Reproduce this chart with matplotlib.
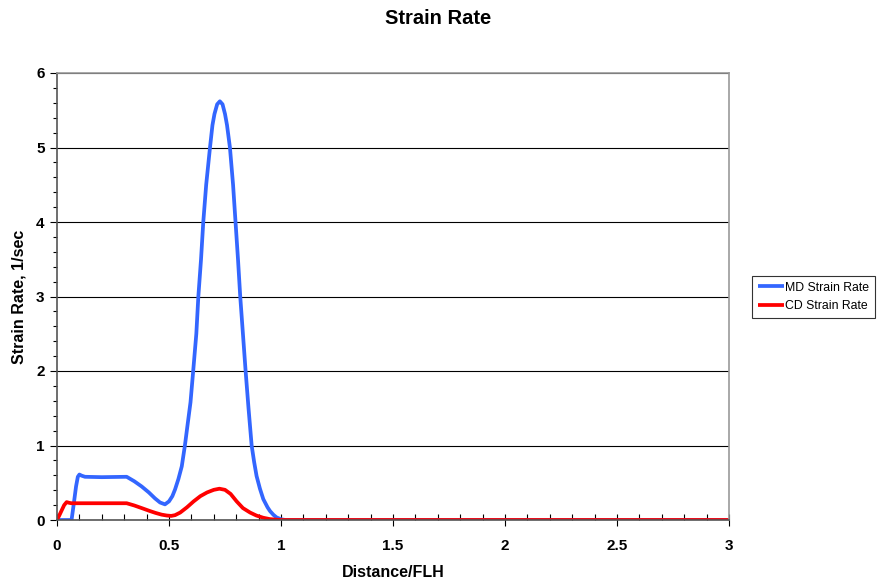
import matplotlib
matplotlib.use('Agg')
import matplotlib.pyplot as plt
from matplotlib.ticker import MultipleLocator

plt.rcParams['font.family'] = ['Liberation Sans', 'DejaVu Sans']

# MD strain rate vs distance / FLH
md_x = [0, 0.065, 0.075, 0.085, 0.093, 0.10, 0.11, 0.125, 0.2, 0.311, 0.345,
        0.378, 0.41, 0.4375, 0.46, 0.482, 0.50, 0.515, 0.527, 0.542, 0.557,
        0.571, 0.583, 0.596, 0.608, 0.622, 0.631, 0.643, 0.653, 0.666, 0.683,
        0.694, 0.703, 0.715, 0.727, 0.739, 0.75, 0.759, 0.772, 0.786, 0.797,
        0.808, 0.818, 0.83, 0.842, 0.855, 0.869, 0.88, 0.891, 0.906, 0.921,
        0.94, 0.951, 0.966, 0.98, 1.0, 1.02, 3.0]
md_y = [0, 0, 0.22, 0.45, 0.58, 0.61, 0.595, 0.58, 0.575, 0.58, 0.52,
        0.45, 0.37, 0.29, 0.235, 0.21, 0.25, 0.32, 0.41, 0.55, 0.72,
        1.0, 1.28, 1.58, 2.0, 2.5, 3.0, 3.5, 4.0, 4.5, 5.0,
        5.3, 5.45, 5.58, 5.62, 5.58, 5.45, 5.3, 5.0, 4.5, 4.0,
        3.5, 3.0, 2.5, 2.0, 1.5, 1.0, 0.78, 0.59, 0.42, 0.28,
        0.17, 0.12, 0.07, 0.035, 0.01, 0, 0]

# CD strain rate vs distance / FLH
cd_x = [0, 0.01, 0.021, 0.032, 0.043, 0.055, 0.065, 0.2, 0.311, 0.345,
        0.378, 0.415, 0.44, 0.467, 0.49, 0.51, 0.527, 0.55, 0.58, 0.61,
        0.64, 0.67, 0.70, 0.725, 0.75, 0.775, 0.802, 0.83, 0.862, 0.89,
        0.921, 0.95, 0.98, 1.0, 3.0]
cd_y = [0, 0.06, 0.13, 0.2, 0.24, 0.23, 0.225, 0.225, 0.225, 0.195,
        0.16, 0.12, 0.095, 0.072, 0.06, 0.055, 0.065, 0.1, 0.17, 0.25,
        0.32, 0.37, 0.405, 0.42, 0.405, 0.35, 0.25, 0.16, 0.1, 0.06,
        0.03, 0.012, 0.004, 0, 0]

fig = plt.figure(figsize=(8.8, 5.86), dpi=100)
ax = fig.add_axes([57 / 880, 66 / 586, 672 / 880, 447 / 586])

ax.plot(md_x, md_y, color='#3366FF', lw=2.7, label='MD Strain Rate',
        solid_joinstyle='round', solid_capstyle='butt')
ax.plot(cd_x, cd_y, color='#FF0000', lw=2.7, label='CD Strain Rate',
        solid_joinstyle='round', solid_capstyle='butt')

ax.set_xlim(0, 3)
ax.set_ylim(0, 6)
ax.xaxis.set_major_locator(MultipleLocator(0.5))
ax.xaxis.set_minor_locator(MultipleLocator(0.1))
ax.yaxis.set_major_locator(MultipleLocator(1))
ax.yaxis.set_minor_locator(MultipleLocator(0.2))
ax.set_xticks([0, 0.5, 1, 1.5, 2, 2.5, 3])
ax.set_xticklabels(['0', '0.5', '1', '1.5', '2', '2.5', '3'])

ax.grid(axis='y', which='major', color='black', lw=0.8)
ax.set_axisbelow(True)
for s in ['top', 'right']:
    ax.spines[s].set_color('#999999')
    ax.spines[s].set_linewidth(1.2)
for s in ['left', 'bottom']:
    ax.spines[s].set_color('#555555')
    ax.spines[s].set_linewidth(1.2)

ax.tick_params(axis='y', which='major', direction='out', length=5,
               width=0.8, labelsize=11, pad=4)
ax.tick_params(axis='y', which='minor', direction='out', length=3, width=0.8)
ax.tick_params(axis='x', which='major', direction='inout', length=9,
               width=0.8, labelsize=11, pad=9)
ax.tick_params(axis='x', which='minor', direction='in', length=4, width=0.8)
for lab in ax.get_xticklabels() + ax.get_yticklabels():
    lab.set_fontweight('bold')

ax.set_xlabel('Distance/FLH', fontsize=11.5, fontweight='bold', labelpad=9)
ax.set_ylabel('Strain Rate, 1/sec', fontsize=11.5, fontweight='bold',
              labelpad=7)
fig.text(438 / 880, 1 - 19 / 586, 'Strain Rate', ha='center', va='center',
         fontsize=14.5, fontweight='bold')

leg = fig.legend(loc='center left', bbox_to_anchor=(752 / 880, 1 - 297 / 586),
                 fontsize=8.8, frameon=True, fancybox=False, handlelength=2.1,
                 handletextpad=0.1, borderpad=0.5, labelspacing=0.55,
                 borderaxespad=0)
leg.get_frame().set_edgecolor('black')
leg.get_frame().set_linewidth(0.8)

fig.savefig('out.png', dpi=100)
